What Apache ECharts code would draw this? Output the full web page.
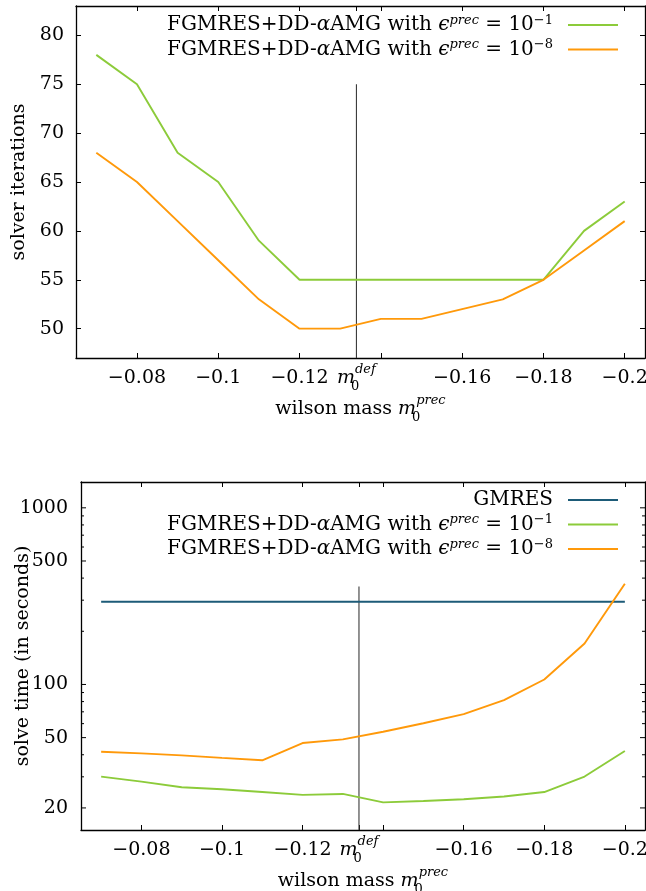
<!DOCTYPE html>
<html><head><meta charset="utf-8">
<script src="https://cdn.jsdelivr.net/npm/echarts@6/dist/echarts.min.js"></script>
<style>html,body{margin:0;padding:0;background:#fff}#c{width:646px;height:891px}</style>
</head><body><div id="c"></div>
<script>
// ---------- data ----------
const wilsonMass = [-0.07,-0.08,-0.09,-0.10,-0.11,-0.12,-0.13,-0.14,-0.15,-0.16,-0.17,-0.18,-0.19,-0.20];
const itersPrec1 = [78,75,68,65,59,55,55,55,55,55,55,55,60,63];
const itersPrec8 = [68,65,61,57,53,50,50,51,51,52,53,55,58,61];
const timeGMRES  = [294,294,294,294,294,294,294,294,294,294,294,294,294,294];
const timePrec1  = [30.1,28.2,26.2,25.5,24.6,23.7,24.0,21.5,21.9,22.4,23.2,24.6,30.1,42];
const timePrec8  = [41.6,40.7,39.7,38.4,37.2,46.6,48.9,54,60.3,67.9,81.5,106.7,170.6,372];
const m0def = -0.134;
const defLineIters = [47, 75];
const defLineTime = [15, 359];
const xTickValues = [-0.08,-0.1,-0.12,m0def,-0.14,-0.16,-0.18,-0.2];
const xLabelValues = [-0.08,-0.1,-0.12,m0def,-0.16,-0.18,-0.2];
const itersTickValues = [50,55,60,65,70,75,80];
const timeMajorTicks = [20,50,100,500,1000];
const timeMinorTicks = [30,40,60,70,80,90,200,300,400,600,700,800,900];
const nameGMRES = 'GMRES';
const namePrec1 = 'FGMRES+DD-αAMG with ϵ^prec = 10^-1';
const namePrec8 = 'FGMRES+DD-αAMG with ϵ^prec = 10^-8';

// ---------- style ----------
const FONT = '"DejaVu Serif","Liberation Serif",serif';
const FS = 19, LFS = 20;
const C_GREEN = '#8ccb3a', C_ORANGE = '#ff990a', C_TEAL = '#1d5b78';
const richMath = {
  it: {fontStyle:'italic', fontFamily:FONT, fontSize:FS},
  sup: {fontStyle:'italic', fontFamily:FONT, fontSize:13, lineHeight:12, verticalAlign:'top'},
  sub: {fontFamily:FONT, fontSize:13, lineHeight:14, verticalAlign:'bottom', width:0}
};
const legendRich = {
  it: {fontStyle:'italic', fontFamily:FONT, fontSize:LFS},
  sup: {fontStyle:'italic', fontFamily:FONT, fontSize:13, lineHeight:9, verticalAlign:'top'},
  supn: {fontFamily:FONT, fontSize:13, lineHeight:9, verticalAlign:'top'}
};
const legendText = {};
legendText[nameGMRES] = 'GMRES';
legendText[namePrec1] = 'FGMRES+DD-{it|α}AMG with {it|ϵ}{sup|prec} = 10{supn|−1}';
legendText[namePrec8] = 'FGMRES+DD-{it|α}AMG with {it|ϵ}{sup|prec} = 10{supn|−8}';

function fmtX(v) {
  if (Math.abs(v - m0def) < 1e-9) return '{it|m}{sub|0}{sup|def}';
  return String(+v.toFixed(3)).replace('-', '−');
}
const pairs = (xs, ys) => xs.map((x, i) => [x, ys[i]]);

function xAx(grid, pos, showLabel, gap) {
  return {
    type:'value', gridIndex:grid, position:pos, min:-0.205, max:-0.065, inverse:true,
    axisLine:{show:true, onZero:false, lineStyle:{color:'#000', width:1.3}},
    axisTick:{show:true, inside:true, length:5, customValues:xTickValues, lineStyle:{color:'#000', width:1}},
    axisLabel:{show:showLabel, customValues:xLabelValues, formatter:fmtX, margin:5,
      fontFamily:FONT, fontSize:FS, color:'#000', lineHeight:30, rich:richMath},
    splitLine:{show:false},
    name: showLabel ? 'wilson mass {it|m}{sub|0}{sup|prec}' : '',
    nameLocation:'middle', nameGap:gap,
    nameTextStyle:{fontFamily:FONT, fontSize:FS, color:'#000', lineHeight:30, rich:richMath}
  };
}
function yItersAx(pos, showLabel) {
  return {
    type:'value', gridIndex:0, position:pos, min:47, max:83,
    axisLine:{show:true, onZero:false, lineStyle:{color:'#000', width:1.3}},
    axisTick:{show:true, inside:true, length:5, customValues:itersTickValues, lineStyle:{color:'#000', width:1}},
    axisLabel:{show:showLabel, customValues:itersTickValues, margin:12, fontFamily:FONT, fontSize:FS, color:'#000'},
    splitLine:{show:false},
    name: showLabel ? 'solver iterations' : '', nameLocation:'middle', nameGap:41,
    nameTextStyle:{fontFamily:FONT, fontSize:FS, color:'#000'}
  };
}
function yTimeAx(pos, showName) {
  return {
    type:'log', logBase:10, gridIndex:1, position:pos, min:15, max:1400,
    axisLine:{show:true, onZero:false, lineStyle:{color:'#000', width:1.3}},
    axisTick:{show:false}, axisLabel:{show:false}, splitLine:{show:false}, minorTick:{show:false},
    name: showName ? 'solve time (in seconds)' : '', nameLocation:'middle', nameGap:48,
    nameTextStyle:{fontFamily:FONT, fontSize:FS, color:'#000'}
  };
}
function lineSeries(name, xi, yi, data, color) {
  return {type:'line', name, xAxisIndex:xi, yAxisIndex:yi, data, showSymbol:false, symbol:'none',
    lineStyle:{color, width:1.9}, itemStyle:{color}, silent:true, z:3};
}
function defLine(xi, yi, ys) {
  return {type:'line', name:'def', xAxisIndex:xi, yAxisIndex:yi, data:[[m0def, ys[0]],[m0def, ys[1]]],
    showSymbol:false, symbol:'none', lineStyle:{color:'#3a3a3a', width:1.1}, silent:true, z:2};
}
function legendCfg(data, top) {
  return {data, orient:'vertical', right:23, top, align:'right', icon:'rect', itemWidth:50, itemHeight:2,
    itemGap:2.5, selectedMode:false, formatter:n => legendText[n] + '\u2002',
    textStyle:{fontFamily:FONT, fontSize:LFS, color:'#000', lineHeight:22, rich:legendRich}};
}
const allTimeTicks = timeMajorTicks.concat(timeMinorTicks);

const option = {
  animation:false,
  backgroundColor:'#fff',
  grid:[
    {left:76, right:1, top:6, bottom:533, containLabel:false, outerBoundsMode:'none'},
    {left:81, right:1, top:482, bottom:61, containLabel:false, outerBoundsMode:'none'}
  ],
  xAxis:[xAx(0,'bottom',true,31), xAx(0,'top',false,0), xAx(1,'bottom',true,28), xAx(1,'top',false,0)],
  yAxis:[yItersAx('left',true), yItersAx('right',false), yTimeAx('left',true), yTimeAx('right',false)],
  legend:[legendCfg([namePrec1, namePrec8], 9), legendCfg([nameGMRES, namePrec1, namePrec8], 484)],
  series:[
    defLine(0,0,defLineIters),
    lineSeries(namePrec1,0,0,pairs(wilsonMass,itersPrec1),C_GREEN),
    lineSeries(namePrec8,0,0,pairs(wilsonMass,itersPrec8),C_ORANGE),
    defLine(2,2,defLineTime),
    lineSeries(nameGMRES,2,2,pairs(wilsonMass,timeGMRES),C_TEAL),
    lineSeries(namePrec1,2,2,pairs(wilsonMass,timePrec1),C_GREEN),
    lineSeries(namePrec8,2,2,pairs(wilsonMass,timePrec8),C_ORANGE),
    {
      type:'custom', name:'timeTicks', xAxisIndex:2, yAxisIndex:2, silent:true, clip:false,
      data: allTimeTicks.map(v => [m0def, v]), encode:{x:0, y:1},
      renderItem:(params, api) => {
        const v = api.value(1);
        const cs = params.coordSys;
        const y = api.coord([m0def, v])[1];
        const major = timeMajorTicks.indexOf(v) >= 0;
        const len = major ? 5 : 3;
        const st = {stroke:'#000', lineWidth:1};
        const children = [
          {type:'line', shape:{x1:cs.x, y1:y, x2:cs.x+len, y2:y}, style:st},
          {type:'line', shape:{x1:cs.x+cs.width, y1:y, x2:cs.x+cs.width-len, y2:y}, style:st}
        ];
        if (major) children.push({type:'text', x:cs.x-13, y:y,
          style:{text:String(v), align:'right', verticalAlign:'middle', fontFamily:FONT, fontSize:FS, fill:'#000'}});
        return {type:'group', children};
      }
    }
  ]
};
const chart = echarts.init(document.getElementById('c'), null, {renderer:'canvas'});
chart.setOption(option);
</script>
</body></html>
